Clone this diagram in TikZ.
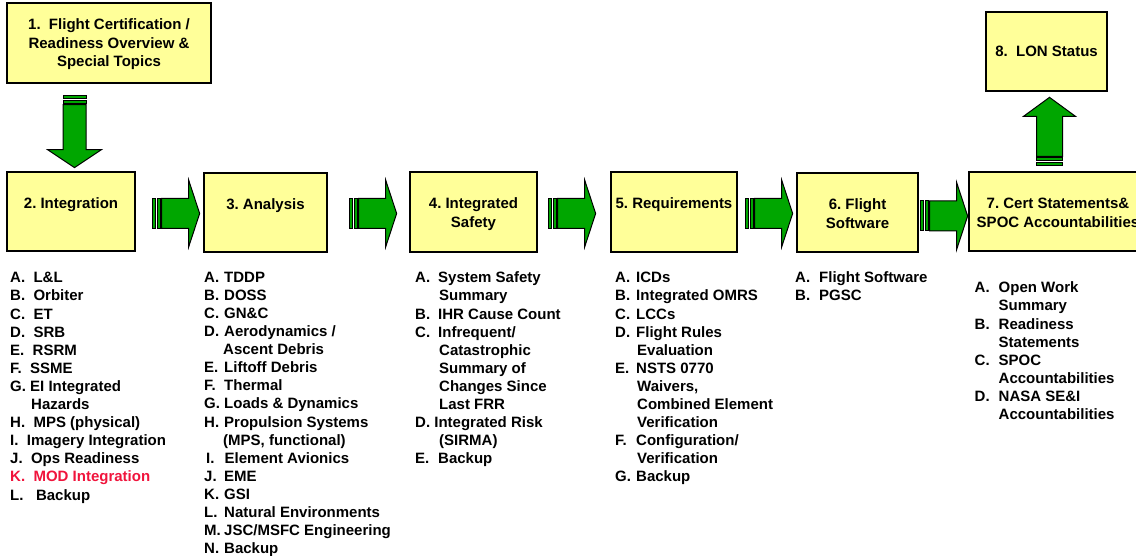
\documentclass[tikz,border=0pt]{standalone}
\usepackage{fontspec}
\setmainfont{Liberation Sans}
\usetikzlibrary{calc}
\definecolor{boxyellow}{RGB}{255,255,153}
\definecolor{arrowgreen}{RGB}{0,166,0}
\definecolor{itemred}{RGB}{240,20,60}
\newcommand{\blockarrow}[6]{% #1 tail, #2 angle, #3 length, #4 shaft half, #5 head half, #6 head length
  \begin{scope}[shift={(#1)},rotate=#2]
    \draw[arrowpart] (0,-#4) rectangle (3,#4);
    \draw[arrowpart] (4.5,-#4) rectangle (7.5,#4);
    \draw[arrowpart] (9,-#4) -- ({#3-#6},-#4) -- ({#3-#6},-#5) -- (#3,0) -- ({#3-#6},#5) -- ({#3-#6},#4) -- (9,#4) -- cycle;
  \end{scope}}
\newcommand{\itm}[3]{\makebox[#1][l]{#2}#3}
\tikzset{
  box/.style={draw=black, line width=1.3pt, fill=boxyellow, inner sep=0pt},
  boxtext/.style={font=\bfseries\fontsize{15}{18.5}\selectfont, align=center, inner sep=0pt, anchor=north},
  listtext/.style={font=\bfseries\fontsize{15}{18.1}\selectfont, align=left, inner sep=0pt, anchor=north west},
  arrowpart/.style={draw=black, line width=1pt, fill=arrowgreen, line join=miter},
}
\begin{document}
\begin{tikzpicture}[x=1pt,y=1pt]
\useasboundingbox (0,0) rectangle (1136,-556);
\clip (0,0) rectangle (1136,-556);
\frenchspacing
% boxes
\node[box, minimum width=204, minimum height=80] (b1) at (109,-43) {};
\node[box, minimum width=128, minimum height=79] (b2) at (71,-211.5) {};
\node[box, minimum width=123, minimum height=79] (b3) at (265.5,-212.5) {};
\node[box, minimum width=127, minimum height=80] (b4) at (473.5,-212) {};
\node[box, minimum width=126, minimum height=80] (b5) at (674,-212) {};
\node[box, minimum width=121, minimum height=79] (b6) at (857.5,-212.5) {};
\node[box, minimum width=178, minimum height=79] (b7) at (1058,-211.5) {};
\node[box, minimum width=121, minimum height=79] (b8) at (1046.5,-51.5) {};
% box texts
\node[boxtext] (t1) at ($(b1.north)+(0,-14.5)$) {\strut 1.\ \ Flight Certification /\\Readiness Overview \&\\Special Topics};
\node[boxtext] (t2) at ($(b2.north)+(0,-24.5)$) {\strut 2. Integration};
\node[boxtext] (t3) at ($(b3.north)+(0,-24.5)$) {\strut 3. Analysis};
\node[boxtext] (t4) at ($(b4.north)+(0,-24.5)$) {\strut 4. Integrated\\Safety};
\node[boxtext] (t5) at ($(b5.north)+(0,-24.5)$) {\strut 5. Requirements};
\node[boxtext] (t6) at ($(b6.north)+(0,-24.5)$) {\strut 6. Flight\\Software};
\node[boxtext] (t7) at ($(b7.north)+(0,-24.2)$) {\strut 7. Cert Statements\&\\SPOC Accountabilities};
\node[boxtext] (t8) at ($(b8.north)+(0,-31.7)$) {\strut 8.\ \ LON Status};
% block arrows
\coordinate (a12) at ($(b1.south)+(-34.5,-12)$);
\coordinate (a23) at ($(b2.east)+(17,-2)$);
\coordinate (a34) at ($(b3.east)+(22,-1)$);
\coordinate (a45) at ($(b4.east)+(11,-1.5)$);
\coordinate (a56) at ($(b5.east)+(8,-1.5)$);
\coordinate (a67) at ($(b6.east)+(2,-3.5)$);
\coordinate (a78) at ($(b7.north)+(-8.5,6)$);
\blockarrow{a12}{-90}{72}{11.5}{27}{18}
\blockarrow{a23}{0}{47}{15}{33.5}{11}
\blockarrow{a34}{0}{47}{15}{33.5}{11}
\blockarrow{a45}{0}{47}{15}{33.5}{11}
\blockarrow{a56}{0}{47}{15}{33.5}{11}
\blockarrow{a67}{0}{47}{15}{33.5}{11}
\blockarrow{a78}{90}{68}{13}{26}{19}
% lists
\node[listtext] (l2) at (10,-270) {\strut A.\ \ L\&L\\
B.\ \ Orbiter\\
C.\ \ ET\\
D.\ \ SRB\\
E.\ \ RSRM\\
F.\ \ SSME\\
G.\ EI Integrated\\
\hspace*{21pt}Hazards\\
H.\ \ MPS (physical)\\
I.\ \ Imagery Integration\\
J.\ \ Ops Readiness\\
{\color{itemred}K.\ \ MOD Integration}\\
L.\ \ \ Backup};
\node[listtext] (l3) at (204,-269.4) {\strut\itm{20pt}{A.}{TDDP}\\
\itm{20pt}{B.}{DOSS}\\
\itm{20pt}{C.}{GN\&C}\\
\itm{20pt}{D.}{Aerodynamics /}\\
\hspace*{19pt}Ascent Debris\\
\itm{20pt}{E.}{Liftoff Debris}\\
\itm{20pt}{F.}{Thermal}\\
\itm{20pt}{G.}{Loads \& Dynamics}\\
\itm{20pt}{H.}{Propulsion Systems}\\
\hspace*{19pt}(MPS, functional)\\
\hspace*{2pt}\itm{18.5pt}{I.}{Element Avionics}\\
\itm{20pt}{J.}{EME}\\
\itm{20pt}{K.}{GSI}\\
\itm{20pt}{L.}{Natural Environments}\\
\itm{20pt}{M.}{JSC/MSFC Engineering}\\
\itm{20pt}{N.}{Backup}};
\node[listtext] (l4) at (415,-270) {\strut\itm{23pt}{A.}{System Safety}\\
\hspace*{24pt}Summary\\
\itm{23pt}{B.}{IHR Cause Count}\\
\itm{23pt}{C.}{Infrequent/}\\
\hspace*{24pt}Catastrophic\\
\hspace*{24pt}Summary of\\
\hspace*{24pt}Changes Since\\
\hspace*{24pt}Last FRR\\
D.\ Integrated Risk\\
\hspace*{24pt}(SIRMA)\\
\itm{23pt}{E.}{Backup}};
\node[listtext] (l5) at (615,-270) {\strut\itm{21pt}{A.}{ICDs}\\
\itm{21pt}{B.}{Integrated OMRS}\\
\itm{21pt}{C.}{LCCs}\\
\itm{21pt}{D.}{Flight Rules}\\
\hspace*{22pt}Evaluation\\
\itm{21pt}{E.}{NSTS 0770}\\
\hspace*{22pt}Waivers,\\
\hspace*{22pt}Combined Element\\
\hspace*{22pt}Verification\\
\itm{21pt}{F.}{Configuration/}\\
\hspace*{22pt}Verification\\
\itm{21pt}{G.}{Backup}};
\node[listtext] (l6) at (795,-270) {\strut\itm{24pt}{A.}{Flight Software}\\
\itm{24pt}{B.}{PGSC}};
\node[listtext] (l7) at (974.5,-280) {\strut\itm{24pt}{A.}{Open Work}\\
\hspace*{24pt}Summary\\
\itm{24pt}{B.}{Readiness}\\
\hspace*{24pt}Statements\\
\itm{24pt}{C.}{SPOC}\\
\hspace*{24pt}Accountabilities\\
\itm{24pt}{D.}{NASA SE\&I}\\
\hspace*{24pt}Accountabilities};
\end{tikzpicture}
\end{document}
